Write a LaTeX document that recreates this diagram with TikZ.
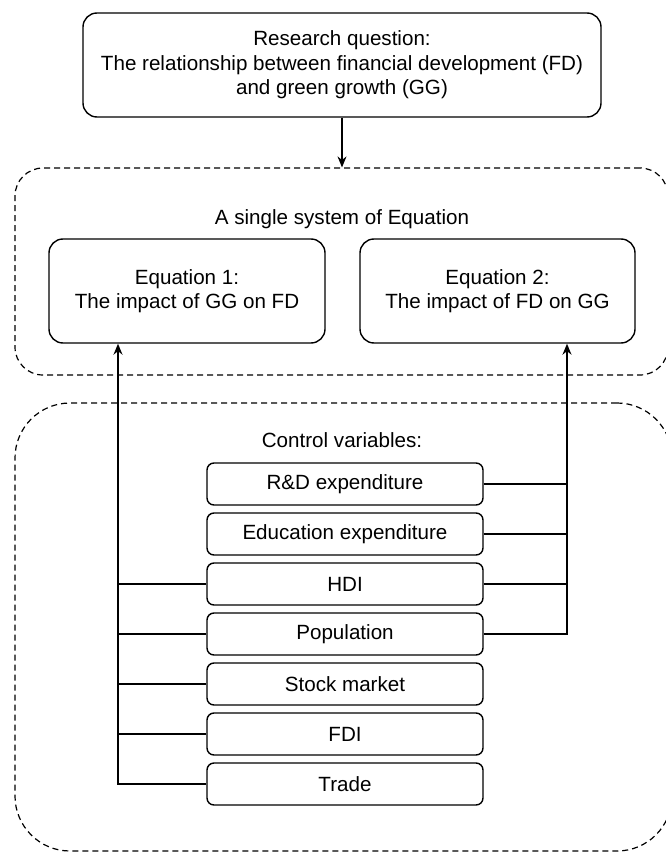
\documentclass[tikz,border=0pt]{standalone}
\usepackage{fontspec}
\setmainfont{Liberation Sans}
\usetikzlibrary{arrows.meta}
\begin{document}
\begin{tikzpicture}[x=1pt,y=-1pt,line width=1.4pt,
  font=\fontsize{20.6}{24.5}\selectfont,
  bigbox/.style={draw, rounded corners=14pt, align=center, inner sep=0pt},
  varbox/.style={draw, rounded corners=7pt, minimum width=276pt, minimum height=42pt, inner sep=0pt},
  group/.style={draw, dashed, dash pattern=on 6pt off 4pt, line width=1.2pt, inner sep=0pt},
  arr/.style={-{Stealth[length=11pt,width=9pt]}}]
\useasboundingbox (0,0) rectangle (665,853);
\node[bigbox, minimum width=518pt, minimum height=104pt] (rq) at (342,65)
  {Research question:\\The relationship between financial development (FD)\\and green growth (GG)};
\node[group, rounded corners=28pt, minimum width=653pt, minimum height=207pt] (sys) at (341.5,271.5) {};
\node (systitle) at (342,219) {A single system of Equation};
\node[bigbox, minimum width=276pt, minimum height=104pt] (eq1) at (187,291) {Equation 1:\\The impact of GG on FD};
\node[bigbox, minimum width=275pt, minimum height=104pt] (eq2) at (497.5,291) {Equation 2:\\The impact of FD on GG};
\node[group, rounded corners=55pt, minimum width=657pt, minimum height=448pt] (ctrl) at (343.5,627) {};
\node (ctrltitle) at (342,440) {Control variables:};
\node[varbox] (rd) at (345,484) {R\&D expenditure};
\node[varbox] (edu) at (345,534) {Education expenditure};
\node[varbox] (hdi) at (345,584) {HDI};
\node[varbox] (pop) at (345,634) {Population};
\node[varbox] (stock) at (345,684) {Stock market};
\node[varbox] (fdi) at (345,734) {FDI};
\node[varbox] (trade) at (345,784) {Trade};
\coordinate (lb) at (118,0);
\coordinate (rb) at (567,0);
\draw[arr] (rq.south) -- (rq.south |- sys.north);
% left bus to equation 1
\draw[arr] (trade.west) -| (lb |- eq1.south);
\draw (hdi.west) -- (hdi.west -| lb);
\draw (pop.west) -- (pop.west -| lb);
\draw (stock.west) -- (stock.west -| lb);
\draw (fdi.west) -- (fdi.west -| lb);
% right bus to equation 2
\draw[arr] (pop.east) -| (rb |- eq2.south);
\draw (rd.east) -- (rd.east -| rb);
\draw (edu.east) -- (edu.east -| rb);
\draw (hdi.east) -- (hdi.east -| rb);
\end{tikzpicture}
\end{document}
